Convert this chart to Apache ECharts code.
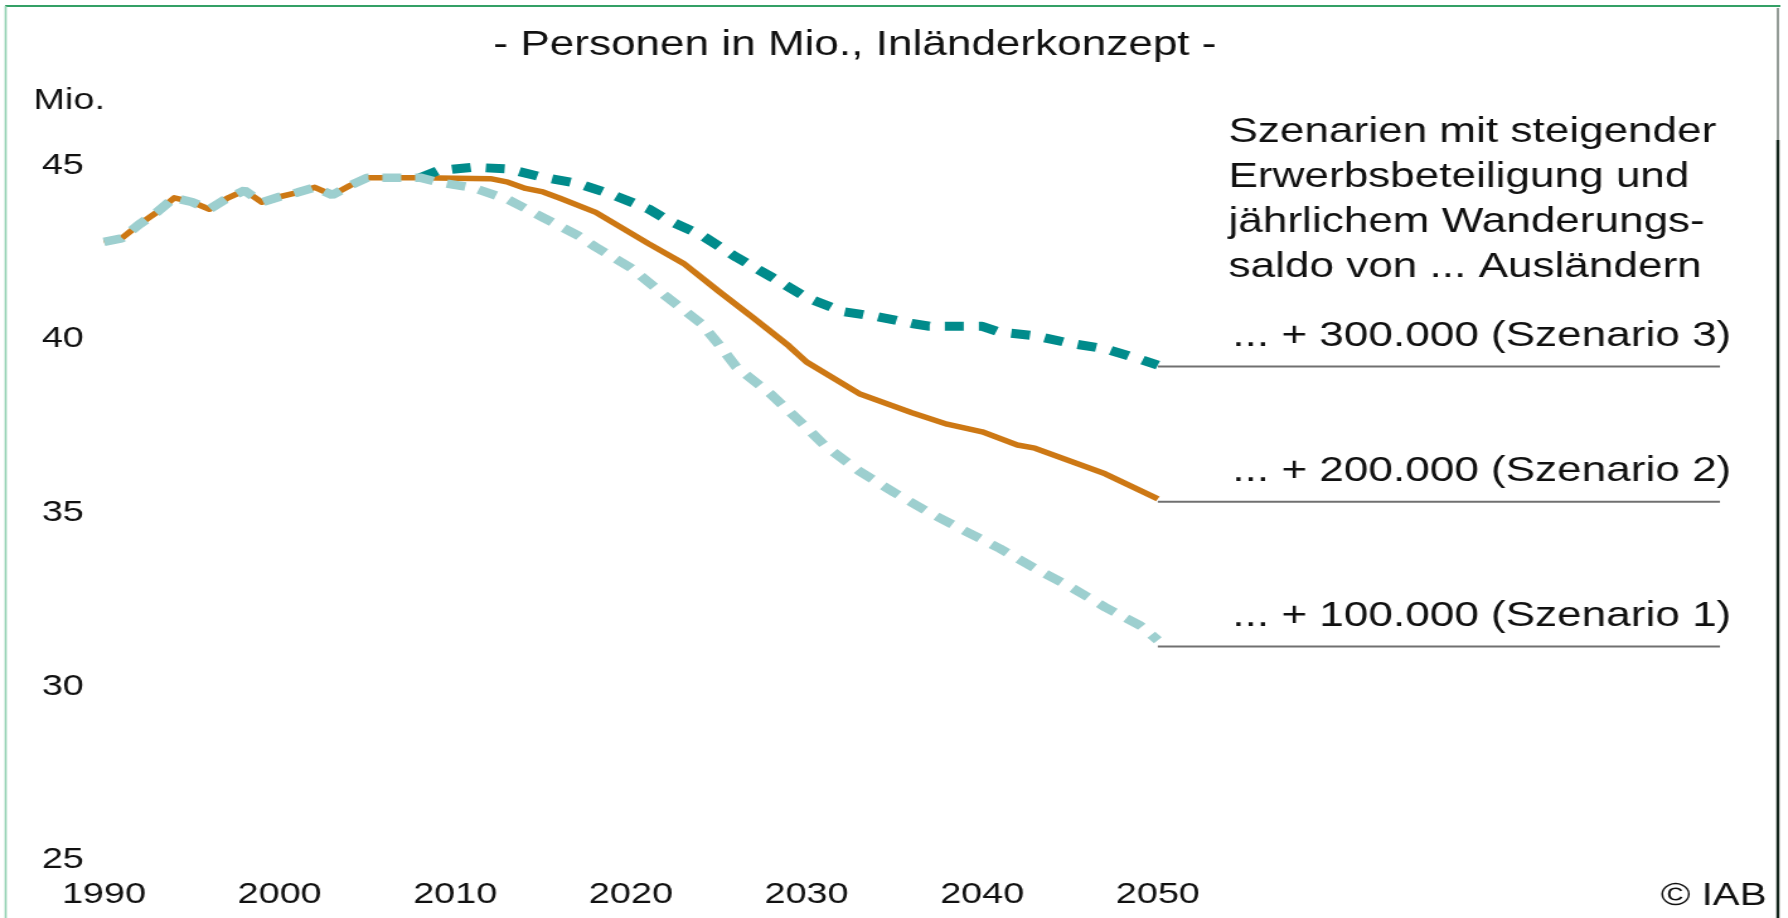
<!DOCTYPE html>
<html>
<head>
<meta charset="utf-8">
<script src="https://cdn.jsdelivr.net/npm/echarts@6/dist/echarts.min.js"></script>
<style>
  html, body { margin: 0; padding: 0; background: #ffffff; overflow: hidden; }
  #chart { width: 1419px; height: 918px; transform: scaleX(1.26); transform-origin: 0 0; }
</style>
</head>
<body>
<div id="chart"></div>
<script>
// ---- data ----
const histYears  = [1990,1991,1992,1993,1994,1995,1996,1997,1998,1999,2000,2001,2002,2003,2004,2005,2006,2007,2008];
const histValues = [42.8,42.9,43.3,43.65,44.07,43.95,43.74,44.05,44.28,43.94,44.1,44.22,44.37,44.15,44.42,44.65,44.65,44.65,44.65];

// Szenario 2 (+200.000), solid orange
const s2Years  = [2010,2012,2013,2014,2015,2016,2018,2021,2023,2025,2027,2029,2030,2033,2036,2038,2040,2042,2043,2047,2050];
const s2Values = [44.63,44.62,44.52,44.34,44.24,44.05,43.65,42.75,42.18,41.38,40.6,39.8,39.34,38.43,37.88,37.55,37.33,36.95,36.86,36.12,35.4];

// Szenario 3 (+300.000), dark teal dashed
const s3Years  = [2008,2009,2011,2013,2015,2017,2019,2021,2022,2024,2026,2028,2030,2032,2034,2036,2037,2040,2041,2043,2045,2047,2049,2050];
const s3Values = [44.65,44.85,44.95,44.9,44.66,44.48,44.15,43.75,43.45,43.0,42.36,41.79,41.2,40.8,40.65,40.45,40.37,40.37,40.2,40.1,39.88,39.72,39.42,39.25];

// Szenario 1 (+100.000), light teal dashed
const s1Years  = [2009,2011,2013,2015,2017,2018,2020,2022,2024,2025,2026,2028,2030,2031,2033,2035,2037,2039,2041,2043,2045,2047,2049,2050];
const s1Values = [44.52,44.36,44.02,43.5,42.98,42.65,42.05,41.23,40.45,39.85,39.2,38.4,37.45,36.95,36.2,35.58,35.0,34.48,33.97,33.4,32.87,32.28,31.75,31.33];

// scenario reference lines and their labels
const scenarioLabels = ['... + 300.000 (Szenario 3)', '... + 200.000 (Szenario 2)', '... + 100.000 (Szenario 1)'];
const scenarioLineValues = [39.21, 35.32, 31.15];
const scenarioLineYears = [2050, 2082];

const titleText = '- Personen in Mio., Inländerkonzept -';
const yUnitText = 'Mio.';
const noteLines = ['Szenarien mit steigender', 'Erwerbsbeteiligung und', 'jährlichem Wanderungs-', 'saldo von ... Ausländern'];
const sourceText = '© IAB';

// ---- chart ----
const FONT = '"Liberation Sans", Arial, Helvetica, sans-serif';
const zip = (xs, ys) => xs.map((x, i) => [x, ys[i]]);

const orangeData = zip(histYears, histValues).concat(zip(s2Years, s2Values));
const lightData  = zip(histYears, histValues).concat(zip(s1Years, s1Values));
const darkData   = zip(s3Years, s3Values);

const chart = echarts.init(document.getElementById('chart'), null, { renderer: 'canvas' });

const refSeries = scenarioLineValues.map(v => ({
  type: 'line',
  data: scenarioLineYears.map(y => [y, v]),
  symbol: 'none',
  silent: true,
  lineStyle: { color: '#707070', width: 2 },
  z: 1
}));

chart.setOption({
  animation: false,
  backgroundColor: '#ffffff',
  grid: { left: 82.5, right: 54, top: 165.5, bottom: 58, containLabel: false },
  xAxis: {
    type: 'value', min: 1990, max: 2082, interval: 10,
    axisLine: { show: false }, axisTick: { show: false }, splitLine: { show: false },
    axisLabel: {
      fontSize: 30, fontFamily: FONT, color: '#111', margin: 20, lineHeight: 30,
      formatter: v => (v <= 2050 ? String(v) : '')
    }
  },
  yAxis: {
    type: 'value', min: 25, max: 45, interval: 5,
    axisLine: { show: false }, axisTick: { show: false }, splitLine: { show: false },
    axisLabel: { fontSize: 30, fontFamily: FONT, color: '#111', margin: 16 }
  },
  series: refSeries.concat([
    {
      name: 'Szenario 2', type: 'line', data: orangeData, symbol: 'none',
      lineStyle: { color: '#cd7814', width: 5.5, join: 'round' }, z: 3
    },
    {
      name: 'Szenario 3', type: 'line', data: darkData, symbol: 'none',
      lineStyle: { color: '#008b8b', width: 9, type: [15, 12], cap: 'butt' }, z: 4
    },
    {
      name: 'Szenario 1', type: 'line', data: lightData, symbol: 'none',
      lineStyle: { color: '#9dcfcf', width: 8.5, type: [15, 11], cap: 'butt' }, z: 5
    }
  ])
});

// ---- texts and frame ----
const graphics = [];
const txt = (text, x, y, size, align, extra) => Object.assign({
  type: 'text', x: x, y: y, silent: true,
  style: { text: text, fontSize: size, fontFamily: FONT, fill: '#111', textAlign: align, textVerticalAlign: 'middle' }
}, extra || {});

graphics.push(txt(titleText, 678.5, 45, 35, 'center'));
graphics.push(txt(yUnitText, 26.6, 101, 30, 'left'));
noteLines.forEach((t, i) => graphics.push(txt(t, 975, 132 + 45 * i, 35, 'left')));
graphics.push(txt(sourceText, 1402, 896, 32, 'right'));

scenarioLineValues.forEach((v, i) => {
  const p = chart.convertToPixel({ gridIndex: 0 }, [2082, v]);
  graphics.push(txt(scenarioLabels[i], p[0] + 9, p[1] - 30, 35, 'right'));
});

// frame lines
graphics.push({ type: 'line', silent: true, shape: { x1: 4, y1: 6, x2: 1413, y2: 6 }, style: { stroke: '#34a066', lineWidth: 2 } });
graphics.push({ type: 'line', silent: true, shape: { x1: 4.5, y1: 6, x2: 4.5, y2: 918 }, style: { stroke: '#8fd0b0', lineWidth: 1.6 } });
graphics.push({ type: 'line', silent: true, shape: { x1: 1411, y1: 8, x2: 1411, y2: 140 }, style: { stroke: '#2a3a30', lineWidth: 1 } });
graphics.push({ type: 'line', silent: true, shape: { x1: 1411, y1: 140, x2: 1411, y2: 918 }, style: { stroke: '#14261c', lineWidth: 2.4 } });

chart.setOption({ graphic: graphics });
</script>
</body>
</html>
